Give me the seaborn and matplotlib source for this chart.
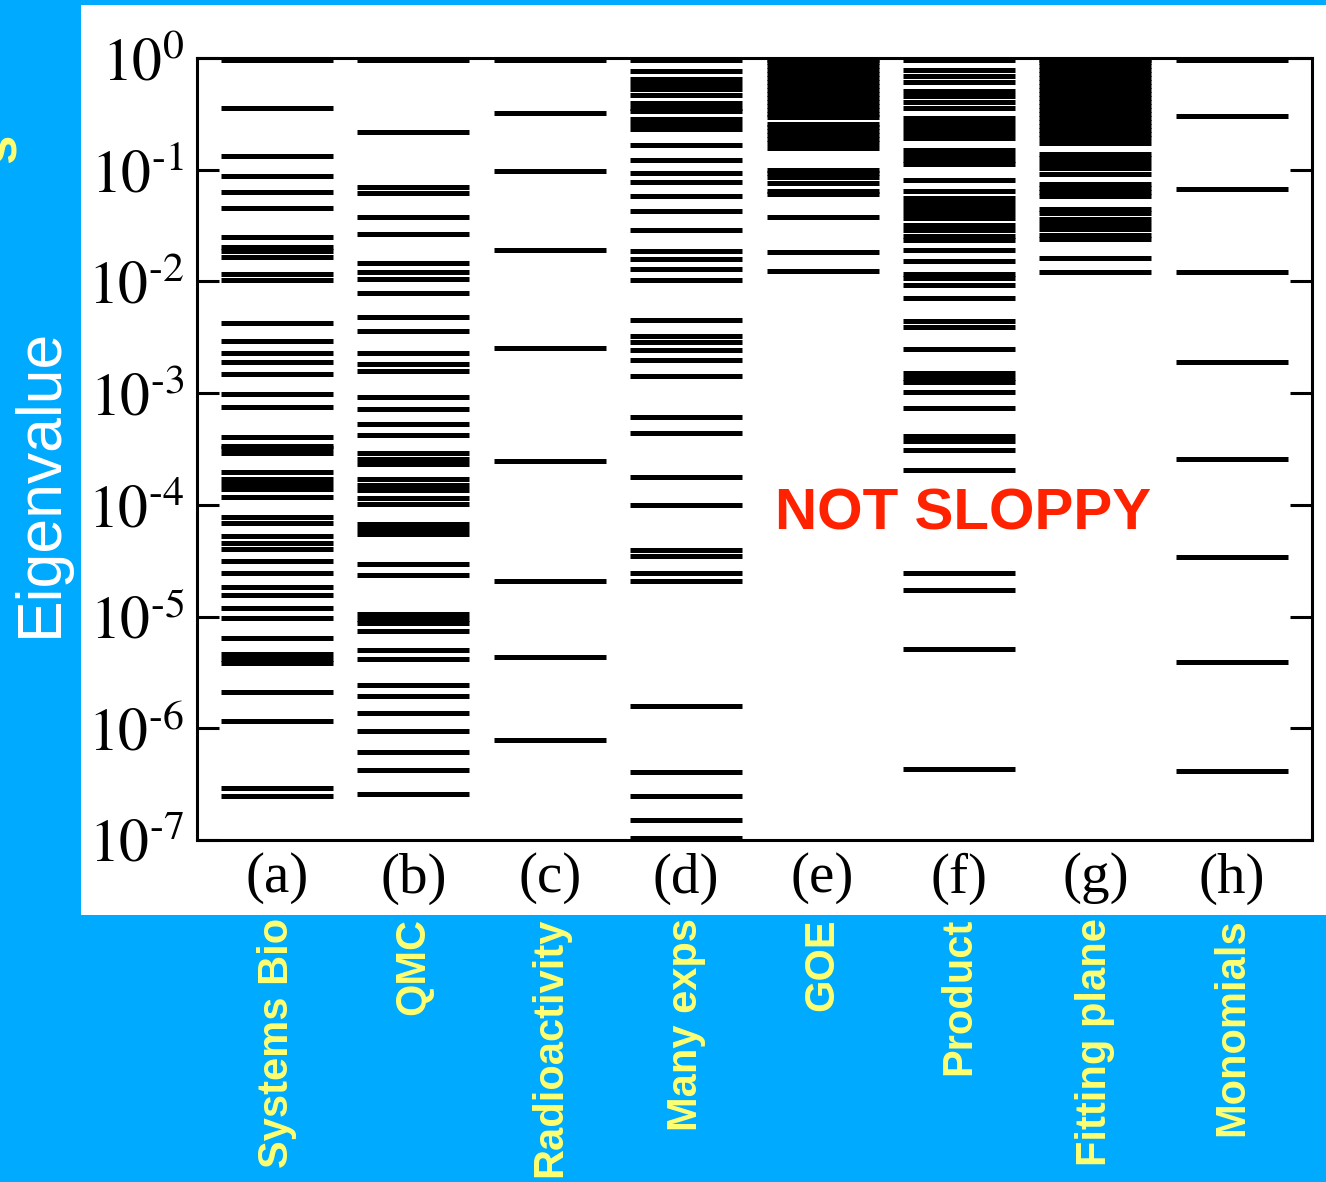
import numpy as np
import pandas as pd
import matplotlib
matplotlib.use("Agg")
import matplotlib.pyplot as plt
import seaborn as sns
from matplotlib.patches import Rectangle
from matplotlib.ticker import FixedLocator, FuncFormatter, NullLocator
from matplotlib.transforms import blended_transform_factory

# ---------------- data (log10 of eigenvalues) ----------------
panel_letters = ["(a)", "(b)", "(c)", "(d)", "(e)", "(f)", "(g)", "(h)"]
model_names = ["Systems Bio", "QMC", "Radioactivity", "Many exps", "GOE",
               "Product", "Fitting plane", "Monomials"]

log10_eig_systems_bio = [-0.02, -0.449, -0.880, -1.059, -1.203, -1.346, -1.598, -1.688,
                         -1.732, -1.777, -1.930, -1.984, -2.370, -2.531, -2.639, -2.720,
                         -2.828, -3.007, -3.124, -3.393, -3.474, -3.492, -3.537, -3.707,
                         -3.770, -3.815, -3.860, -3.932, -4.111, -4.165, -4.282, -4.345,
                         -4.399, -4.506, -4.614, -4.731, -4.803, -4.919, -5.009, -5.189,
                         -5.332, -5.377, -5.413, -5.673, -5.934, -6.535, -6.607]
log10_eig_qmc = [-0.02, -0.664, -1.158, -1.212, -1.427, -1.571, -1.831, -1.912, -1.975,
                 -2.101, -2.316, -2.442, -2.639, -2.738, -2.801, -3.034, -3.142, -3.276,
                 -3.375, -3.537, -3.591, -3.636, -3.770, -3.824, -3.869, -3.941, -3.995,
                 -4.174, -4.219, -4.264, -4.533, -4.632, -4.973, -5.018, -5.054, -5.126,
                 -5.296, -5.377, -5.610, -5.709, -5.862, -6.023, -6.212, -6.373, -6.589]
log10_eig_radioactivity = [-0.02, -0.494, -1.014, -1.715, -2.594, -3.609, -4.686, -5.359, -6.104]
log10_eig_many_exps = [-0.02, -0.117, -0.184, -0.229, -0.274, -0.328, -0.399, -0.444,
                       -0.476, -0.543, -0.588, -0.633, -0.781, -0.916, -1.032, -1.113,
                       -1.239, -1.373, -1.544, -1.732, -1.795, -1.885, -1.984, -2.343,
                       -2.487, -2.540, -2.612, -2.702, -2.846, -3.214, -3.357, -3.752,
                       -4.004, -4.408, -4.461, -4.614, -4.686, -5.799, -6.391, -6.607,
                       -6.822, -6.984]
log10_eig_goe = [-0.02, -0.036, -0.072, -0.108, -0.144, -0.180, -0.215, -0.251, -0.287,
                 -0.323, -0.359, -0.395, -0.431, -0.467, -0.503, -0.530, -0.588, -0.619,
                 -0.655, -0.691, -0.727, -0.763, -0.803, -1.001, -1.032, -1.068, -1.118,
                 -1.189, -1.216, -1.427, -1.741, -1.903]
log10_eig_product = [-0.02, -0.108, -0.162, -0.215, -0.296, -0.341, -0.395, -0.449,
                     -0.539, -0.583, -0.628, -0.673, -0.718, -0.826, -0.871, -0.916,
                     -0.952, -1.095, -1.194, -1.257, -1.302, -1.346, -1.391, -1.436,
                     -1.499, -1.544, -1.589, -1.625, -1.715, -1.813, -1.930, -1.966,
                     -2.029, -2.145, -2.352, -2.406, -2.603, -2.819, -2.864, -2.899,
                     -2.989, -3.133, -3.384, -3.429, -3.510, -3.689, -4.614, -4.758,
                     -5.287, -6.364]
log10_eig_fitting_plane = [-0.02, -0.036, -0.072, -0.108, -0.144, -0.180, -0.215, -0.251,
                           -0.287, -0.323, -0.359, -0.395, -0.431, -0.467, -0.503, -0.539,
                           -0.575, -0.610, -0.646, -0.682, -0.718, -0.759, -0.857, -0.898,
                           -0.943, -0.987, -1.037, -1.127, -1.167, -1.203, -1.234, -1.355,
                           -1.391, -1.445, -1.490, -1.535, -1.580, -1.620, -1.786, -1.912]
log10_eig_monomials = [-0.02, -0.521, -1.176, -1.912, -2.720, -3.591, -4.470, -5.404, -6.382]

all_series = [log10_eig_systems_bio, log10_eig_qmc, log10_eig_radioactivity,
              log10_eig_many_exps, log10_eig_goe, log10_eig_product,
              log10_eig_fitting_plane, log10_eig_monomials]

rows = []
for i, vals in enumerate(all_series):
    for v in vals:
        rows.append((i, 10.0 ** v))
df = pd.DataFrame(rows, columns=["model", "eigenvalue"])

# ---------------- style ----------------
sns.set_theme(style="white")
plt.rcParams["font.family"] = ["Liberation Sans", "DejaVu Sans"]
plt.rcParams["mathtext.fontset"] = "stix"

W, H = 1326, 1182
BLUE = "#00AAFF"
YELLOW = "#FFFF70"

fig = plt.figure(figsize=(W / 100, H / 100), dpi=100, facecolor=BLUE)
fig.patches.append(Rectangle((81 / W, 1 - 915 / H), 1 - 81 / W, (915 - 5) / H,
                             transform=fig.transFigure, facecolor="white",
                             edgecolor="none", zorder=-5))

ax = fig.add_axes([197 / W, 1 - 840 / H, (1312 - 197) / W, (840 - 58) / H])
ax.set_zorder(2)
ax.set_facecolor("white")
ax.set_yscale("log")

bar_len_pt = 112 * 72 / 100
sns.scatterplot(data=df, x="model", y="eigenvalue", marker="_", s=bar_len_pt ** 2,
                linewidth=3.6, color="black", edgecolor="black", legend=False,
                ax=ax, zorder=3)

ax.set_xlim(-0.587, 7.588)
ax.set_ylim(1e-7, 1.0)
ax.set_xlabel("")
ax.set_ylabel("")

for s in ax.spines.values():
    s.set_visible(True)
    s.set_color("black")
    s.set_linewidth(2.2)


def decade_label(v, _):
    k = int(round(np.log10(v)))
    if k < 0:
        return r"$10^{\text{-}%d}$" % (-k)
    return r"$10^{%d}$" % k


ax.yaxis.set_major_locator(FixedLocator([10.0 ** k for k in range(-7, 1)]))
ax.yaxis.set_minor_locator(NullLocator())
ax.yaxis.set_major_formatter(FuncFormatter(decade_label))
ax.tick_params(axis="y", which="major", direction="in", length=16, width=2.2,
               left=True, right=True, labelleft=True, labelright=False,
               labelsize=43, pad=9, colors="black")

ax.set_xticks(range(len(panel_letters)))
ax.set_xticklabels(panel_letters, fontfamily="Liberation Serif", fontsize=41)
ax.tick_params(axis="x", length=0, pad=9, colors="black")

# rotated model names below the panel
tr = blended_transform_factory(ax.transData, fig.transFigure)
for i, name in enumerate(model_names):
    ax.text(i, 1 - 918 / H, name, transform=tr, rotation=90, ha="center", va="top",
            color=YELLOW, fontsize=30, fontweight="bold", clip_on=False)

fig.text(40 / W, 1 - 482 / H, "Eigenvalue", rotation=90, ha="center", va="center",
         color="white", fontsize=45)
fig.text(963 / W, 1 - 514 / H, "NOT SLOPPY", ha="center", va="center",
         color="#FF2200", fontsize=42, fontweight="bold", zorder=5)
fig.text(2 / W, 1 - 148 / H, "s", rotation=90, ha="center", va="center",
         color=YELLOW, fontsize=38, fontweight="bold")

fig.savefig("out.png", dpi=100, facecolor=BLUE)
